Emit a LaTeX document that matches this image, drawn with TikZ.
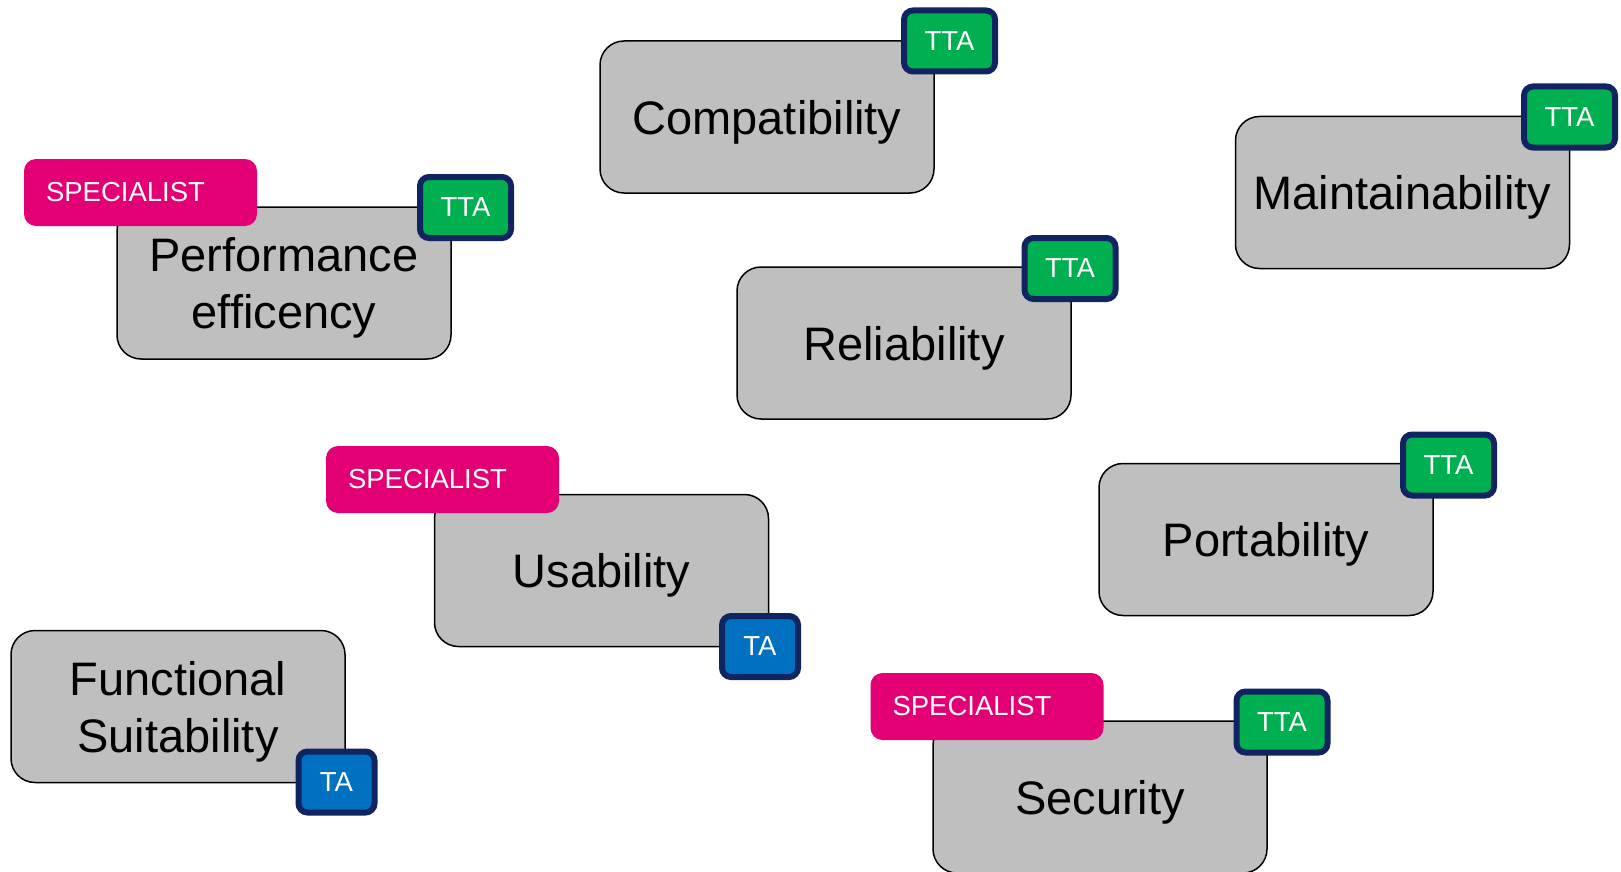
\documentclass[tikz,border=0pt]{standalone}
\usepackage{fontspec}
\setmainfont{Liberation Sans}
\definecolor{boxgray}{HTML}{BFBFBF}
\definecolor{ttagreen}{HTML}{00B050}
\definecolor{tablue}{HTML}{0070C0}
\definecolor{navyedge}{HTML}{0F2460}
\definecolor{specpink}{HTML}{E20074}
\tikzset{
  qbox/.style={draw=black, line width=1.5pt, fill=boxgray, rounded corners=24pt,
    minimum width=334pt, minimum height=152pt, inner sep=0pt, align=center,
    text depth=0pt, font=\fontsize{47}{57}\selectfont},
  ttatag/.style={draw=navyedge, line width=6pt, fill=ttagreen, rounded corners=9pt,
    minimum width=91pt, minimum height=61pt, inner sep=0pt, text=white,
    font=\fontsize{27.5}{33}\selectfont},
  tatag/.style={ttatag, fill=tablue, minimum width=76pt},
  spectag/.style={fill=specpink, rounded corners=12pt, minimum height=67pt,
    inner ysep=0pt, inner xsep=22pt, text width=189pt, align=left, text=white,
    font=\fontsize{27.5}{33}\selectfont}
}
\begin{document}
\begin{tikzpicture}[x=1pt,y=-1pt]
\useasboundingbox (0,0) rectangle (1621,872);

% Performance efficency
\node[qbox] (perf) at (284,283) {Performance\\efficency};
\node[spectag] (perfspec) at (140.5,192.5) {SPECIALIST};
\node[ttatag] (perftta) at (465.5,207.5) {TTA};

% Compatibility
\node[qbox] (compat) at (767,117) {Compatibility};
\node[ttatag] (compattta) at (949.5,41) {TTA};

% Maintainability
\node[qbox] (maint) at (1402.5,192.5) {Maintainability};
\node[ttatag] (mainttta) at (1569.5,117) {TTA};

% Reliability
\node[qbox] (relia) at (904,343) {Reliability};
\node[ttatag] (reliatta) at (1070,268.5) {TTA};

% Usability
\node[qbox] (usab) at (601.5,570.5) {Usability};
\node[spectag] (usabspec) at (442.5,479.5) {SPECIALIST};
\node[tatag] (usabta) at (760,646.5) {TA};

% Portability
\node[qbox] (port) at (1266,539.5) {Portability};
\node[ttatag] (porttta) at (1448.5,465) {TTA};

% Functional Suitability
\node[qbox] (func) at (178,706.5) {Functional\\Suitability};
\node[tatag] (functa) at (336.5,782) {TA};

% Security
\node[qbox] (secu) at (1100,797) {Security};
\node[spectag] (secuspec) at (987,706.5) {SPECIALIST};
\node[ttatag] (secutta) at (1282,722) {TTA};
\end{tikzpicture}
\end{document}
